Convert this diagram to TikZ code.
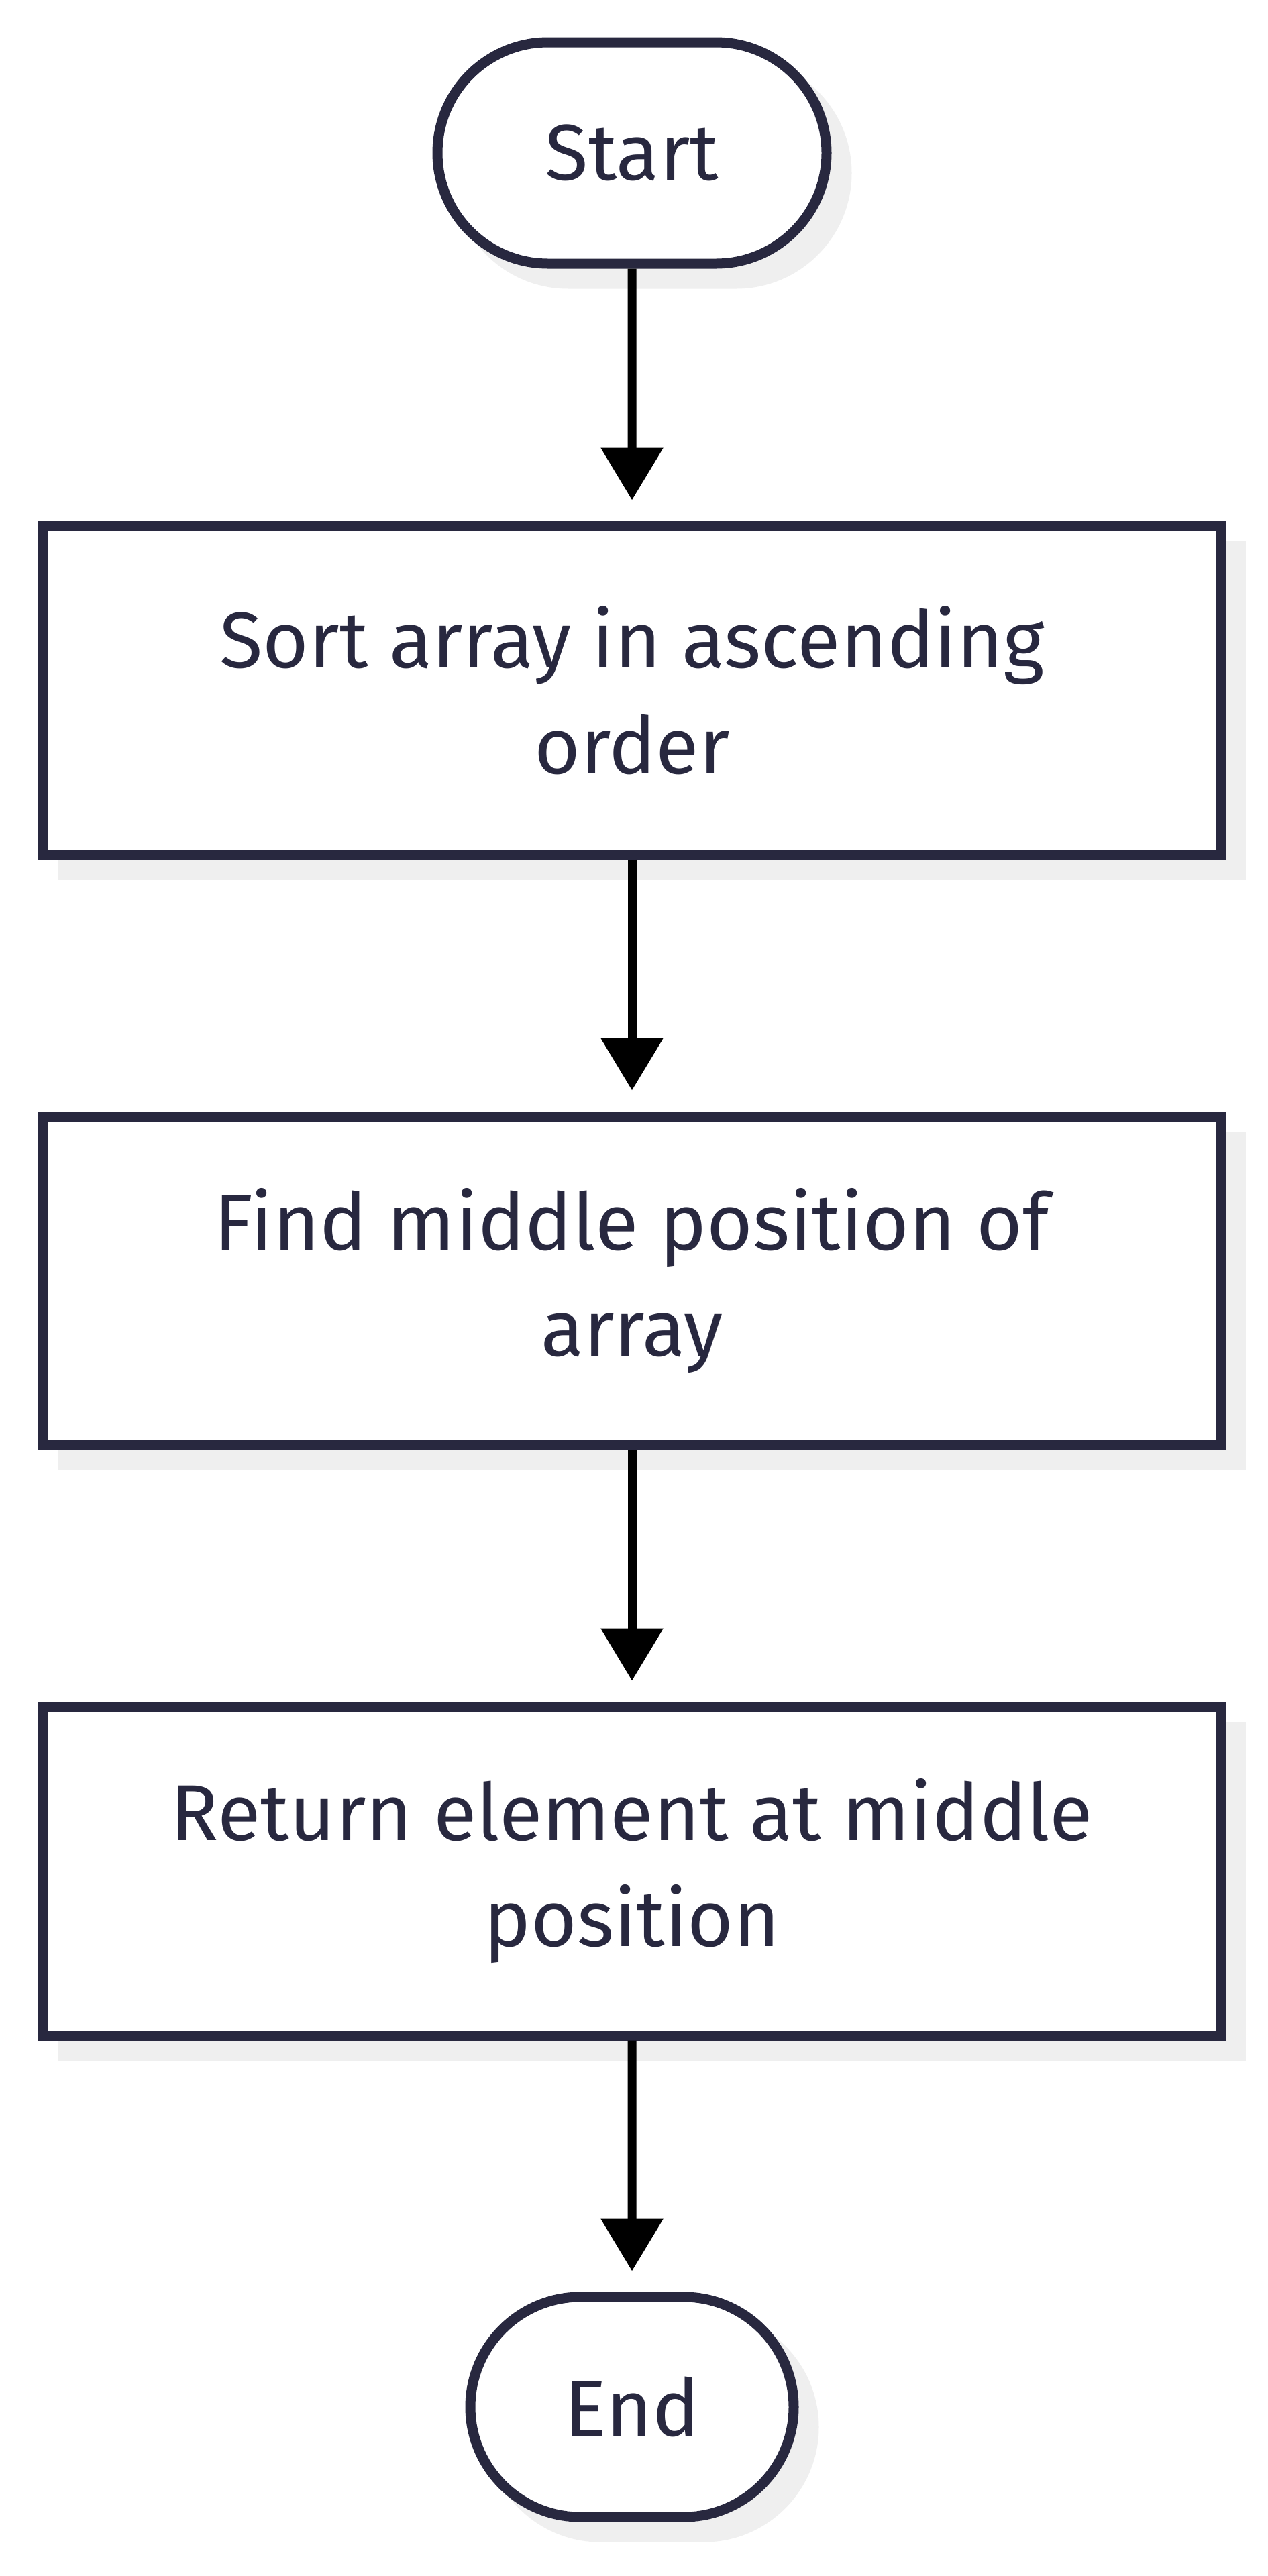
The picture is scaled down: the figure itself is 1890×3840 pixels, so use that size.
\documentclass[tikz,border=0pt]{standalone}
\usepackage{fontspec}
\setmainfont{Fira Sans}
\usetikzlibrary{arrows.meta,shapes.misc,shadows}
\definecolor{ink}{HTML}{28283F}
\definecolor{shade}{HTML}{EFEFEF}
\begin{document}
\begin{tikzpicture}[x=0.5pt,y=-0.5pt,
  base/.style={draw=ink, line width=7.5pt, fill=white, text=ink,
    font=\fontsize{59pt}{79pt}\selectfont, align=center, inner sep=0pt,
    drop shadow={shadow xshift=15pt, shadow yshift=-15pt, opacity=1,
      fill=shade, draw=shade, line width=7.5pt}},
  term/.style={base, rounded rectangle},
  proc/.style={base, rectangle, minimum width=877.5pt, minimum height=245pt},
  flow/.style={draw=black, line width=6.5pt,
    -{Triangle[width=45pt,length=39pt]}, shorten >=15.5pt}]
\useasboundingbox[fill=white] (0,0) rectangle (1890,3840);
\node[term, minimum width=290pt, minimum height=165pt] (start) at (942,228) {Start};
\node[proc] (sort) at (942,1029) {Sort array in ascending\\order};
\node[proc] (mid) at (942,1909) {Find middle position of\\array};
\node[proc] (ret) at (942,2789) {Return element at middle\\position};
\node[term, minimum width=241pt, minimum height=164pt] (end) at (942,3588) {End};
\draw[flow] (start) -- (sort);
\draw[flow] (sort) -- (mid);
\draw[flow] (mid) -- (ret);
\draw[flow] (ret) -- (end);
\end{tikzpicture}
\end{document}
